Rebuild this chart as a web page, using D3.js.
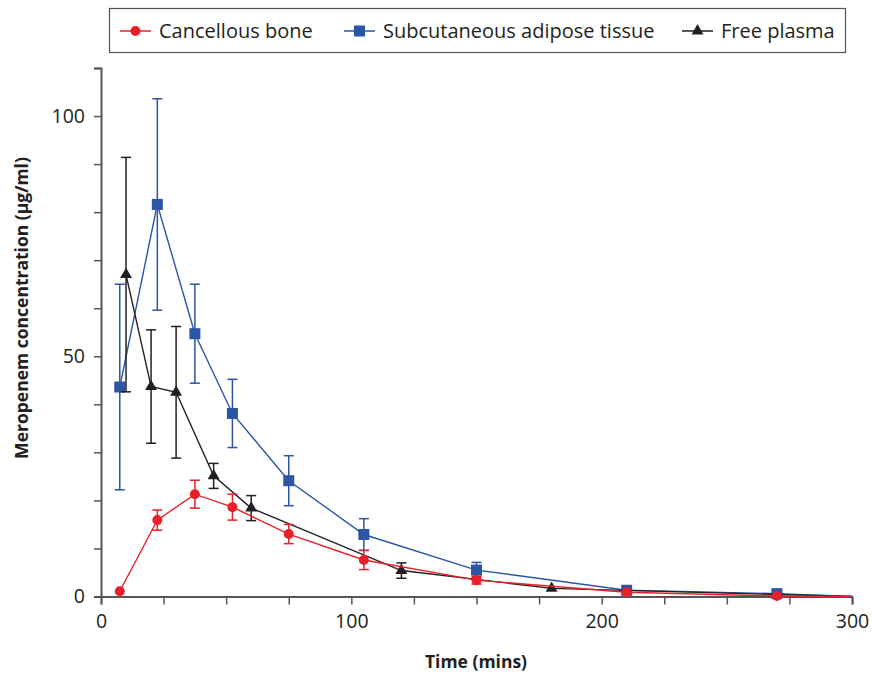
<!DOCTYPE html>
<html>
<head>
<meta charset="utf-8">
<script src="https://cdn.jsdelivr.net/npm/d3@7"></script>
<style>
  body { margin: 0; background: #fff; }
  svg { display: block; font-family: "Open Sans", sans-serif; }
</style>
</head>
<body>
<svg id="chart" width="872" height="674"></svg>
<script>
// Times (mins) and mean ± SD
const boneTime = [7.5, 22.5, 37.5, 52.5, 75, 105, 150, 210, 270, 300];
const boneMean = [1.1, 15.9, 21.3, 18.6, 13.0, 7.6, 3.4, 0.9, 0.1, 0];
const boneErr  = [0, 2.1, 2.9, 2.7, 2.0, 2.0, 0.8, 0, 0, 0];

const fatTime = [7.5, 22.5, 37.5, 52.5, 75, 105, 150, 210, 270, 300];
const fatMean = [43.6, 81.6, 54.7, 38.1, 24.1, 12.9, 5.5, 1.3, 0.6, 0];
const fatErr  = [21.4, 22.0, 10.3, 7.1, 5.2, 3.3, 1.6, 0, 0, 0];

const plasmaTime = [10, 20, 30, 45, 60, 120, 180, 300];
const plasmaMean = [67.0, 43.7, 42.5, 25.1, 18.4, 5.4, 1.7, 0];
const plasmaErr  = [24.4, 11.8, 13.7, 2.6, 2.6, 1.6, 0, 0];

const xTicks = d3.range(0, 301, 25);
const xLabels = [0, 100, 200, 300];
const yTicks = d3.range(0, 111, 10);
const yLabels = [0, 50, 100];

const series = [
  { name: "Subcutaneous adipose tissue", color: "#2b55a5", marker: "square", t: fatTime, m: fatMean, e: fatErr },
  { name: "Free plasma", color: "#231f20", marker: "triangle", t: plasmaTime, m: plasmaMean, e: plasmaErr },
  { name: "Cancellous bone", color: "#e8202a", marker: "circle", t: boneTime, m: boneMean, e: boneErr }
];
const legendOrder = ["Cancellous bone", "Subcutaneous adipose tissue", "Free plasma"];

const svg = d3.select("#chart");
const x = d3.scaleLinear().domain([0, 300]).range([101, 852]);
const y = d3.scaleLinear().domain([0, 110]).range([596.5, 68]);
const axisColor = "#555";

// axes
const xAxis = svg.append("g")
  .attr("transform", `translate(0,${y(0)})`)
  .call(d3.axisBottom(x).tickValues(xTicks).tickSize(8).tickPadding(10)
    .tickFormat(d => xLabels.includes(d) ? d : ""));
const yAxis = svg.append("g")
  .attr("transform", `translate(${x(0)},0)`)
  .call(d3.axisLeft(y).tickValues(yTicks).tickSize(7).tickPadding(9)
    .tickFormat(d => yLabels.includes(d) ? d : ""));
[xAxis, yAxis].forEach(g => {
  g.select(".domain").attr("stroke", axisColor).attr("stroke-width", 2);
  g.selectAll(".tick line").attr("stroke", axisColor).attr("stroke-width", 1.5);
  g.selectAll(".tick text").attr("fill", "#231f20")
    .style("font-family", "Open Sans").style("font-size", "19.5px");
});

svg.append("text")
  .attr("x", 476).attr("y", 668)
  .attr("text-anchor", "middle")
  .style("font-size", "17.5px").style("font-weight", "bold").attr("fill", "#231f20")
  .text("Time (mins)");
svg.append("text")
  .attr("transform", "translate(28,308) rotate(-90)")
  .attr("text-anchor", "middle")
  .style("font-size", "17.5px").style("font-weight", "bold").attr("fill", "#231f20")
  .text("Meropenem concentration (μg/ml)");

function drawMarker(g, type, color) {
  if (type === "circle") g.append("circle").attr("r", 5).attr("fill", color);
  else if (type === "square") g.append("rect").attr("x", -5.5).attr("y", -5.5).attr("width", 11).attr("height", 11).attr("fill", color);
  else g.append("path").attr("d", d3.symbol(d3.symbolTriangle, 62)()).attr("fill", color);
}

const line = d3.line().x(d => x(d.t)).y(d => y(d.m));

series.forEach(s => {
  const pts = s.t.map((t, i) => ({ t, m: s.m[i], e: s.e[i] }));
  const g = svg.append("g");
  g.append("path").datum(pts).attr("d", line)
    .attr("fill", "none").attr("stroke", s.color).attr("stroke-width", 1.4);

  const eb = g.selectAll(".err").data(pts.filter(d => d.e > 0)).enter().append("g")
    .attr("stroke", s.color).attr("stroke-width", 1.5);
  eb.append("line").attr("x1", d => x(d.t)).attr("x2", d => x(d.t))
    .attr("y1", d => y(d.m + d.e)).attr("y2", d => y(d.m - d.e));
  eb.append("line").attr("x1", d => x(d.t) - 5).attr("x2", d => x(d.t) + 5)
    .attr("y1", d => y(d.m + d.e)).attr("y2", d => y(d.m + d.e));
  eb.append("line").attr("x1", d => x(d.t) - 5).attr("x2", d => x(d.t) + 5)
    .attr("y1", d => y(d.m - d.e)).attr("y2", d => y(d.m - d.e));

  // the curves run down to 300 min without a marker there
  g.selectAll(".mk").data(pts.filter(d => d.t < 300)).enter().append("g")
    .attr("transform", d => `translate(${x(d.t)},${y(d.m)})`)
    .each(function() { drawMarker(d3.select(this), s.marker, s.color); });
});

// legend
const legend = svg.append("g");
legend.append("rect").attr("x", 109.5).attr("y", 8.5).attr("width", 736).attr("height", 44)
  .attr("fill", "#fff").attr("stroke", "#555").attr("stroke-width", 1.2);
const legendX = [120, 344, 682];
legendOrder.forEach((name, i) => {
  const s = series.find(d => d.name === name);
  const g = legend.append("g").attr("transform", `translate(${legendX[i]},31)`);
  g.append("line").attr("x1", 0).attr("x2", 31).attr("stroke", s.color).attr("stroke-width", 1.5);
  const mk = g.append("g").attr("transform", "translate(15.5,0)");
  drawMarker(mk, s.marker, s.color);
  g.append("text").attr("x", 39).attr("y", 7)
    .style("font-size", "20px").attr("fill", "#231f20").text(name);
});
</script>
</body>
</html>
